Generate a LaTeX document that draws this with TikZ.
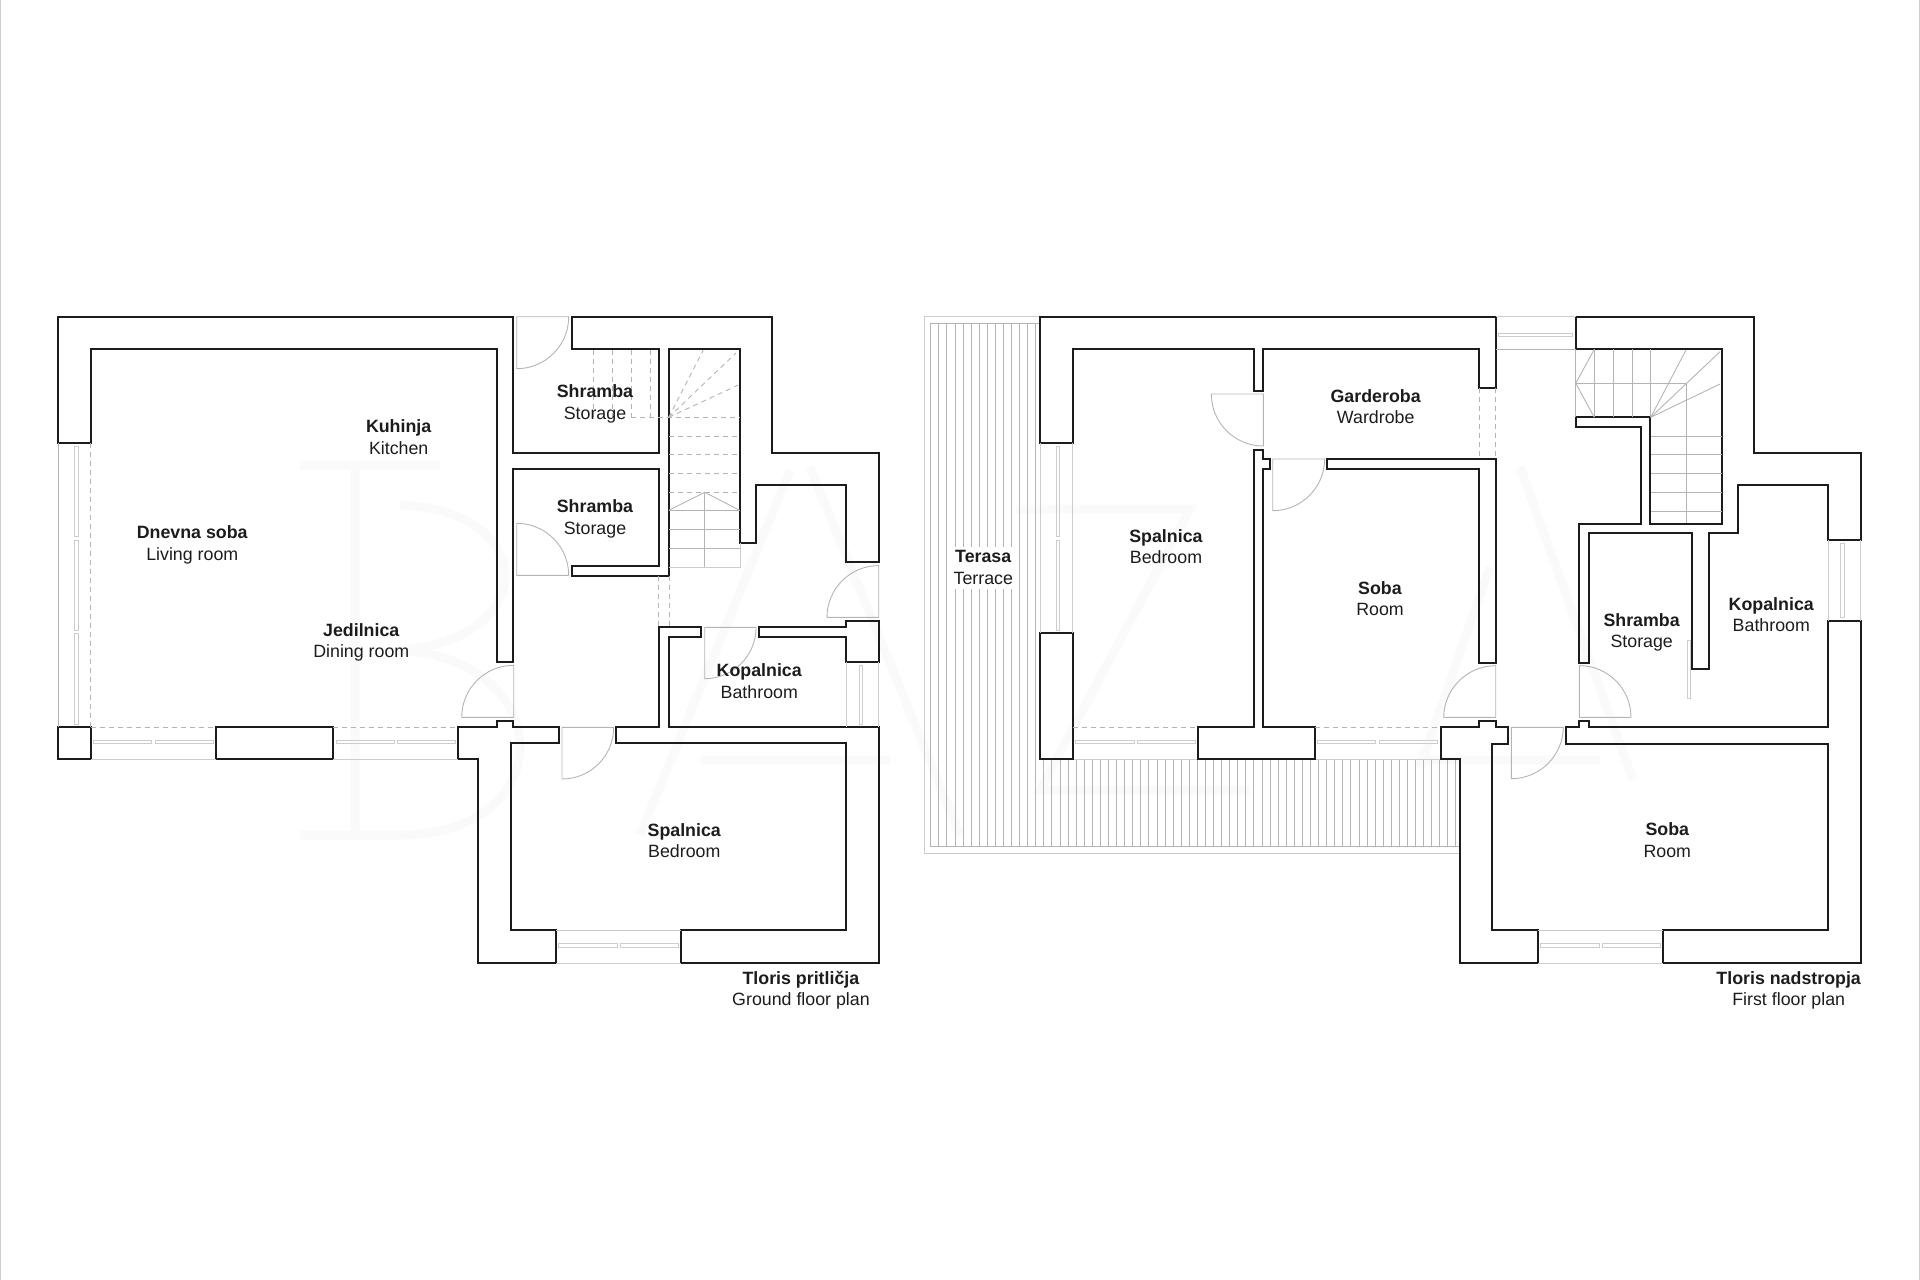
\documentclass[tikz,border=0pt]{standalone}
\usepackage{fontspec}
\setmainfont{Liberation Sans}
\definecolor{inkwall}{HTML}{1C1C1C}
\definecolor{inkfine}{HTML}{B4B4B4}
\definecolor{inkpale}{HTML}{CDCDCD}
\definecolor{inkghost}{HTML}{FAFAFA}
\tikzset{
	wall/.style={draw=inkwall, line width=2.2pt, line join=miter},
	fine/.style={draw=inkfine, line width=0.9pt},
	pale/.style={draw=inkpale, line width=1pt},
	hidden/.style={draw=inkfine, line width=0.9pt, dash pattern=on 5pt off 4pt},
	sash/.style={draw=inkpale, line width=1pt},
	ghost/.style={draw=inkghost, line width=9pt},
	room/.style={align=center, text=inkwall, font=\fontsize{17.8}{21.5}\selectfont, inner sep=0pt},
	deck/.style={room, fill=white, inner xsep=5pt, inner ysep=4pt}
}
\begin{document}
\begin{tikzpicture}[x=1pt, y=-1pt]
	\useasboundingbox (0,0) rectangle (1920,1280);
	\draw[pale] (0.7,0) -- (0.7,1280);
	\draw[pale] (1919.3,0) -- (1919.3,1280);
	\draw[ghost] (355,465) -- (355,835) (300,465) -- (440,465) (400,505) .. controls (540,510) and (540,640) .. (400,650) .. controls (560,660) and (560,835) .. (400,835) -- (300,835);
	\draw[ghost] (790,470) -- (640,835) (810,467) -- (960,835) (700,760) -- (890,760);
	\draw[ghost] (1016,509) -- (1190,509) -- (1040,790) -- (1250,790);
	\draw[ghost] (1520,467) -- (1633,780) (1490,567) -- (1420,767) (1420,760) -- (1600,760);

	\draw[wall] (58.3,442.7) -- (58.3,316.7) -- (513.3,316.7) -- (513.3,452.7) -- (659.3,452.7) -- (659.3,349.3) -- (572,349.3) -- (572,316.7) -- (772,316.7) -- (772,452.7) -- (878.7,452.7) -- (878.7,562.3) -- (846.3,562.3) -- (846.3,485) -- (756,485) -- (756,543.3) -- (739.7,543.3) -- (739.7,349.3) -- (668.7,349.3) -- (668.7,575.7) -- (572,575.7) -- (572,565.7) -- (659.3,565.7) -- (659.3,469) -- (513.3,469) -- (513.3,662) -- (497.3,662) -- (497.3,349.3) -- (90.7,349.3) -- (90.7,442.7) -- cycle;
	\draw[wall] (58.3,727) rectangle (90.7,759.3);
	\draw[wall] (216.3,727) rectangle (332.7,759.3);
	\draw[wall] (458.3,727.3) -- (497.3,727.3) -- (497.3,720.7) -- (513.3,720.7) -- (513.3,727.3) -- (559,727.3) -- (559,743.3) -- (510.7,743.3) -- (510.7,930.3) -- (556.3,930.3) -- (556.3,963) -- (478.3,963) -- (478.3,759.3) -- (458.3,759.3) -- cycle;
	\draw[wall] (616.3,727.3) -- (659.3,727.3) -- (659.3,627.3) -- (701,627.3) -- (701,637) -- (668.7,637) -- (668.7,727.3) -- (878.7,727.3) -- (878.7,963) -- (681.3,963) -- (681.3,930.3) -- (846.3,930.3) -- (846.3,743.3) -- (616.3,743.3) -- cycle;
	\draw[wall] (759.3,627.3) -- (846.3,627.3) -- (846.3,620.7) -- (878.7,620.7) -- (878.7,662.3) -- (846.3,662.3) -- (846.3,637) -- (759.3,637) -- cycle;

	\draw[fine] (58.3,442.7) -- (58.3,727);
	\draw[hidden] (90.7,442.7) -- (90.7,727);
	\foreach \ya/\yb in {446/536.7, 540/630, 633.3/724}
		\draw[sash] (74.7,\ya) rectangle (78,\yb);
	\draw[hidden] (90.7,727) -- (216.3,727);
	\draw[hidden] (332.7,727) -- (458.3,727);
	\draw[pale] (90.7,759.3) -- (216.3,759.3);
	\draw[pale] (332.7,759.3) -- (458.3,759.3);
	\foreach \xa/\xb in {93.3/151.7, 155/213.3, 336/394.3, 397.3/455.7}
		\draw[sash] (\xa,740.3) rectangle (\xb,743.3);
	\draw[pale] (846.3,662.3) -- (846.3,727);
	\draw[pale] (878.7,662.3) -- (878.7,727);
	\draw[sash] (859.3,665.7) rectangle (862.7,724);
	\draw[pale] (556.3,930.3) -- (681.3,930.3);
	\draw[pale] (556.3,963) -- (681.3,963);
	\draw[sash] (558.7,943.7) rectangle (617,947.3);
	\draw[sash] (620.3,943.7) rectangle (678.7,947.3);

	\draw[fine] (568.7,316.7) -- (516.7,316.7) -- (516.7,368.7) arc (90:0:52);
	\draw[fine] (516.7,523.3) -- (516.7,575.3) -- (568.7,575.3) arc (0:-90:52);
	\draw[fine] (461.7,717.3) -- (513.7,717.3) -- (513.7,665.3) arc (270:180:52);
	\draw[fine] (613.7,727.3) -- (562,727.3) -- (562,779) arc (90:0:51.7);
	\draw[fine] (756,627.3) -- (704.7,627.3) -- (704.7,678.7) arc (90:0:51.4);
	\draw[fine] (827,617.3) -- (878.7,617.3) -- (878.7,565.6) arc (270:180:51.7);

	\foreach \xs in {593.7, 612.3, 631.3, 650.3}
		\draw[hidden] (\xs,350) -- (\xs,417.3);
	\draw[hidden] (631.3,417.3) -- (739.7,417.3);
	\foreach \ys in {436, 454.7, 473.3, 492.3}
		\draw[hidden] (668.7,\ys) -- (739.7,\ys);
	\draw[hidden] (668.7,417.3) -- (703.3,350);
	\draw[hidden] (668.7,417.3) -- (736,353);
	\draw[hidden] (668.7,417.3) -- (738.3,385);
	\draw[fine] (668.7,510.3) -- (704.7,492.3) -- (739.7,510.3);
	\foreach \ys in {510.3, 529.3, 548.3}
		\draw[fine] (668.7,\ys) -- (739.7,\ys);
	\draw[fine] (704.7,492.3) -- (704.7,567.3);
	\draw[pale] (668.7,567.3) -- (740,567.3) -- (740,543.3);
	\draw[hidden] (658.7,575.7) -- (658.7,626.7);
	\draw[hidden] (669.3,575.7) -- (669.3,626.7);

	\draw[pale] (924,316.7) -- (1040,316.7);
	\draw[pale] (924,316.7) -- (924,853) -- (1460,853);
	\draw[fine] (930.7,323.3) -- (1040,323.3);
	\draw[fine] (930.7,846.7) -- (1460,846.7);
	\foreach \k in {0,...,13}
		\draw[fine] (930.7+8.08*\k,323.3) -- (930.7+8.08*\k,846.7);
	\foreach \k in {14,...,65}
		\draw[fine] (930.7+8.08*\k,759.3) -- (930.7+8.08*\k,846.7);
	\draw[pale] (1072.7,759.3) -- (1198.3,759.3);
	\draw[pale] (1314.7,759.3) -- (1440.7,759.3);

	\draw[wall] (1040,442.7) -- (1040,316.7) -- (1495.7,316.7) -- (1495.7,388) -- (1479.3,388) -- (1479.3,349.3) -- (1262.7,349.3) -- (1262.7,391.3) -- (1253.7,391.3) -- (1253.7,349.3) -- (1072.7,349.3) -- (1072.7,442.7) -- cycle;
	\draw[wall] (1040,633.3) rectangle (1072.7,759.3);
	\draw[wall] (1253.7,727) -- (1253.7,449.7) -- (1262.7,449.7) -- (1262.7,458.7) -- (1269.7,458.7) -- (1269.7,469.3) -- (1262.7,469.3) -- (1262.7,727) -- (1314.7,727) -- (1314.7,759.3) -- (1198.3,759.3) -- (1198.3,727) -- cycle;
	\draw[wall] (1327.3,459) -- (1495.7,459) -- (1495.7,662.7) -- (1479.3,662.7) -- (1479.3,469) -- (1327.3,469) -- cycle;
	\draw[wall] (1575.7,316.7) -- (1753.7,316.7) -- (1753.7,452.7) -- (1860.7,452.7) -- (1860.7,540) -- (1828.3,540) -- (1828.3,485) -- (1737.7,485) -- (1737.7,533.3) -- (1708.7,533.3) -- (1708.7,669.3) -- (1692.3,669.3) -- (1692.3,533.3) -- (1589,533.3) -- (1589,662.7) -- (1579.3,662.7) -- (1579.3,523.7) -- (1641,523.7) -- (1641,426.7) -- (1575.7,426.7) -- (1575.7,417.3) -- (1650.3,417.3) -- (1650.3,523.7) -- (1721.7,523.7) -- (1721.7,349.3) -- (1575.7,349.3) -- cycle;
	\draw[wall] (1440.7,727) -- (1479.3,727) -- (1479.3,720.7) -- (1495.7,720.7) -- (1495.7,727) -- (1508.3,727) -- (1508.3,743.7) -- (1492.3,743.7) -- (1492.3,930.3) -- (1537.7,930.3) -- (1537.7,963) -- (1460,963) -- (1460,759.3) -- (1440.7,759.3) -- cycle;
	\draw[wall] (1566.3,727) -- (1579.3,727) -- (1579.3,720.7) -- (1589,720.7) -- (1589,727) -- (1828.3,727) -- (1828.3,620.7) -- (1860.7,620.7) -- (1860.7,963) -- (1663.3,963) -- (1663.3,930.3) -- (1828.3,930.3) -- (1828.3,743.7) -- (1566.3,743.7) -- cycle;

	\draw[pale] (1040,442.7) -- (1040,633.3);
	\draw[pale] (1072.7,442.7) -- (1072.7,633.3);
	\draw[sash] (1056,446) rectangle (1059.7,536.7);
	\draw[sash] (1056,540) rectangle (1059.7,630);
	\draw[hidden] (1072.7,727) -- (1198.3,727);
	\draw[hidden] (1314.7,727) -- (1440.7,727);
	\foreach \xa/\xb in {1075.7/1134, 1137.3/1195.7, 1317.3/1375.7, 1379/1437.3}
		\draw[sash] (\xa,740.3) rectangle (\xb,743.3);
	\draw[pale] (1495.7,316.7) -- (1575.7,316.7);
	\draw[fine] (1495.7,349.3) -- (1575.7,349.3);
	\draw[sash] (1498.7,333) rectangle (1572.7,336);
	\draw[hidden] (1479.3,388) -- (1479.3,459);
	\draw[hidden] (1495.7,388) -- (1495.7,459);
	\draw[pale] (1828.3,540) -- (1828.3,620.7);
	\draw[pale] (1860.7,540) -- (1860.7,620.7);
	\draw[sash] (1840.7,543.3) rectangle (1844.3,617.3);
	\draw[sash] (1687.3,640) rectangle (1690.7,698.3);
	\draw[pale] (1537.7,930.3) -- (1663.3,930.3);
	\draw[pale] (1537.7,963) -- (1663.3,963);
	\draw[sash] (1540.3,943.7) rectangle (1599.3,947.3);
	\draw[sash] (1602.3,943.7) rectangle (1660.7,947.3);

	\draw[fine] (1211.3,394) -- (1263.3,394) -- (1263.3,446) arc (90:180:52);
	\draw[fine] (1325,459) -- (1272.7,459) -- (1272.7,510.7) arc (90:0:52);
	\draw[fine] (1443.3,717.3) -- (1495.7,717.3) -- (1495.7,665.7) arc (270:180:52);
	\draw[fine] (1579.3,665.7) -- (1579.3,717.3) -- (1631,717.3) arc (0:-90:51.7);
	\draw[fine] (1563.3,727.3) -- (1511.3,727.3) -- (1511.3,778.7) arc (90:0:52);

	\draw[fine] (1575.7,349.3) -- (1575.7,417.3);
	\draw[fine] (1594.3,349.3) -- (1575.7,383.3) -- (1594.3,417.3);
	\draw[fine] (1575.7,383.3) -- (1686,383.3);
	\foreach \xs in {1594.3, 1613.3, 1632, 1650.7}
		\draw[fine] (\xs,349.3) -- (\xs,417.3);
	\draw[fine] (1650.7,417.3) -- (1686,350);
	\draw[fine] (1650.7,417.3) -- (1720,351.7);
	\draw[fine] (1650.7,417.3) -- (1720,384);
	\draw[fine] (1686,383.3) -- (1686,523.3);
	\foreach \ys in {436, 454.7, 473.3, 492.3, 511}
		\draw[fine] (1650.7,\ys) -- (1721.7,\ys);

	\node[room] (kuhinja) at (398.7,437) {\textbf{Kuhinja}\\Kitchen};
	\node[room] (dnevna) at (192.3,545) {\textbf{Dnevna soba}\\Living room};
	\node[room] (jedilnica) at (361.3,642.4) {\textbf{Jedilnica}\\Dining room};
	\node[room] (shrambaA) at (595,403.7) {\textbf{Shramba}\\Storage};
	\node[room] (shrambaB) at (595,519) {\textbf{Shramba}\\Storage};
	\node[room] (kopalnicaA) at (759.3,681.3) {\textbf{Kopalnica}\\Bathroom};
	\node[room] (spalnicaA) at (684.3,840.8) {\textbf{Spalnica}\\Bedroom};
	\node[room] (tlorisA) at (801,990.4) {\textbf{Tloris pritličja}\\Ground floor plan};
	\node[deck] (terasa) at (983.3,567.7) {\textbf{Terasa}\\Terrace};
	\node[room] (spalnicaB) at (1166,546.8) {\textbf{Spalnica}\\Bedroom};
	\node[room] (garderoba) at (1375.7,406.5) {\textbf{Garderoba}\\Wardrobe};
	\node[room] (sobaA) at (1380,598.6) {\textbf{Soba}\\Room};
	\node[room] (shrambaC) at (1641.7,632.2) {\textbf{Shramba}\\Storage};
	\node[room] (kopalnicaB) at (1771.3,614.5) {\textbf{Kopalnica}\\Bathroom};
	\node[room] (sobaB) at (1667.3,840) {\textbf{Soba}\\Room};
	\node[room] (tlorisB) at (1788.7,990.4) {\textbf{Tloris nadstropja}\\First floor plan};
\end{tikzpicture}
\end{document}
